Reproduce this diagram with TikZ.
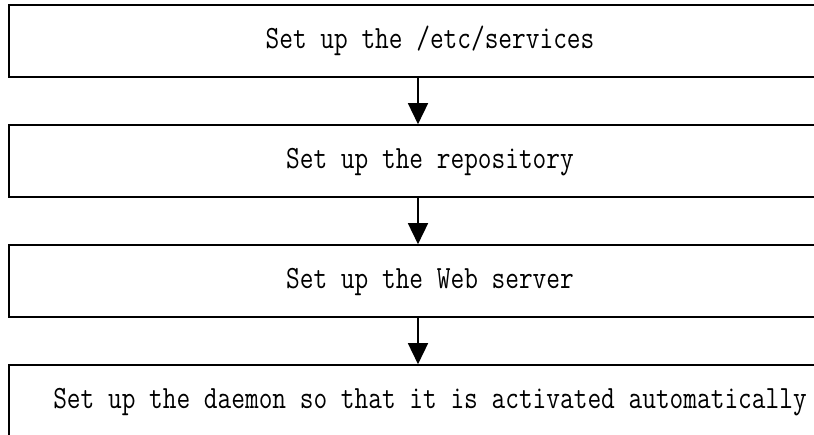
\documentclass[tikz,border=0pt]{standalone}
\usetikzlibrary{arrows.meta}
\begin{document}
\begin{tikzpicture}[x=1pt,y=-1pt,
  stepbox/.style={draw=black,line width=1.6pt,rectangle,minimum width=842pt,minimum height=72pt,
    inner sep=0pt,text height=20pt,text depth=6pt,font=\ttfamily\fontsize{26.6}{30}\selectfont},
  flow/.style={line width=1.5pt,-{Triangle[length=21pt,width=20pt]}}]
\clip (0,0) rectangle (814,434);
\fill[white] (0,0) rectangle (814,434);
\newcommand{\tallt}[1]{\scalebox{1}[1.22]{#1}}
\node[stepbox] (b1) at (430,41) {\tallt{Set up the /etc/services}};
\node[stepbox] (b2) at (430,161) {\tallt{Set up the repository}};
\node[stepbox] (b3) at (430,281) {\tallt{Set up the Web server}};
\node[stepbox] (b4) at (430,401) {\tallt{Set up the daemon so that it is activated automatically}};
\coordinate (ax) at (418,0);
\draw[flow] (b1.south -| ax) -- (b2.north -| ax);
\draw[flow] (b2.south -| ax) -- (b3.north -| ax);
\draw[flow] (b3.south -| ax) -- (b4.north -| ax);
\end{tikzpicture}
\end{document}
